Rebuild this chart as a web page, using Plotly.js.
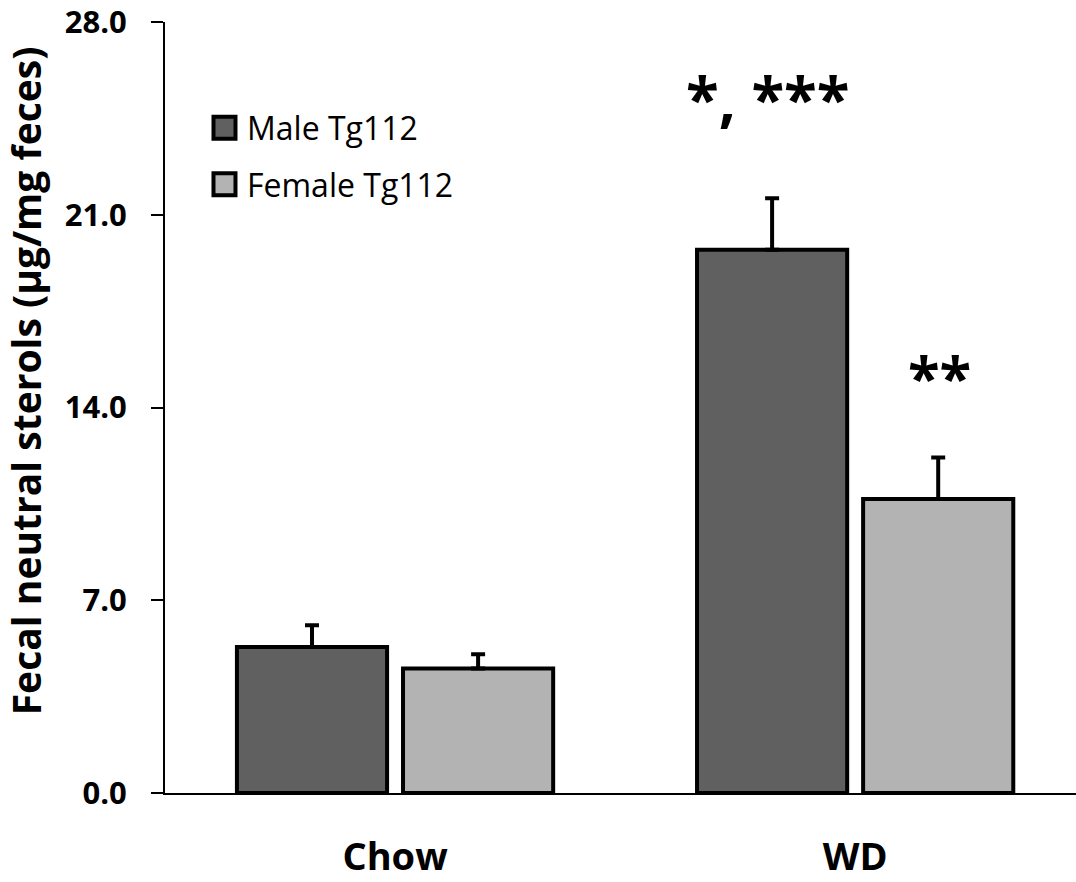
<!DOCTYPE html>
<html>
<head>
<meta charset="utf-8">
<script src="https://cdn.plot.ly/plotly-3.0.1.min.js"></script>
<style>html,body{margin:0;padding:0;background:#fff;}#chart{width:1076px;height:882px;}</style>
</head>
<body>
<div id="chart"></div>
<script>
const categories = ["Chow", "WD"];
const seriesNames = ["Male Tg112", "Female Tg112"];
const maleValues = [5.30, 19.73];
const femaleValues = [4.52, 10.68];
const maleErrors = [0.79, 1.87];
const femaleErrors = [0.52, 1.50];
const yTickValues = [0, 7, 14, 21, 28];
const yTickLabels = ["0.0", "7.0", "14.0", "21.0", "28.0"];
const yTitle = "Fecal neutral sterols (μg/mg feces)";
const significanceLabels = ["*, ***", "**"];
const significanceY = [25.25, 15.14];

const colors = ["#606060", "#b3b3b3"];
const font = "'Open Sans', 'DejaVu Sans', sans-serif";

function barTrace(name, values, errors, color) {
  return {
    type: "bar",
    name: name,
    x: categories,
    y: values,
    marker: {color: color, line: {color: "#000", width: 4}},
    error_y: {type: "data", symmetric: false, array: errors, arrayminus: errors.map(() => 0),
              color: "#000", thickness: 4, width: 7},
    showlegend: false,
    hoverinfo: "x+y"
  };
}

const data = [
  barTrace(seriesNames[0], maleValues, maleErrors, colors[0]),
  barTrace(seriesNames[1], femaleValues, femaleErrors, colors[1])
];

const legendY = [0.863, 0.7895];
const shapes = [];
const annotations = [];
seriesNames.forEach((n, i) => {
  shapes.push({type: "rect", xref: "paper", yref: "paper", xsizemode: "pixel", ysizemode: "pixel",
    xanchor: 0.0653, yanchor: legendY[i], x0: -11, x1: 11, y0: -11, y1: 11,
    fillcolor: colors[i], line: {color: "#000", width: 4}});
  annotations.push({xref: "paper", yref: "paper", x: 0.088, y: legendY[i], xanchor: "left", yanchor: "middle",
    text: n, showarrow: false, font: {family: font, size: 32, color: "#000"}});
});
annotations.push({x: categories[1], y: significanceY[0], xref: "x", yref: "y", xshift: -88,
  text: significanceLabels[0], showarrow: false, yanchor: "middle",
  font: {family: font, size: 60, color: "#000", weight: "bold"}});
annotations.push({x: categories[1], y: significanceY[1], xref: "x", yref: "y", xshift: 84,
  text: significanceLabels[1], showarrow: false, yanchor: "middle",
  font: {family: font, size: 58, color: "#000", weight: "bold"}});
// y-axis title placed as a rotated annotation (reference title sits above plot centre)
annotations.push({xref: "paper", yref: "paper", x: 0, y: 0.534, xshift: -140,
  xanchor: "center", yanchor: "middle", textangle: -90, showarrow: false,
  text: yTitle, font: {family: font, size: 39, color: "#000", weight: "bold"}});

const layout = {
  width: 1076, height: 882,
  margin: {l: 165, r: 0, t: 22, b: 89},
  paper_bgcolor: "#fff", plot_bgcolor: "#fff",
  barmode: "group", bargap: 0.278, bargroupgap: 0.096,
  xaxis: {
    type: "category", range: [-0.5, 1.48],
    showline: true, linecolor: "#000", linewidth: 2,
    ticks: "", showgrid: false, zeroline: false,
    ticklabelstandoff: 29,
    tickfont: {family: font, size: 38, color: "#000", weight: "bold"}
  },
  yaxis: {
    range: [0, 28], showline: true, linecolor: "#000", linewidth: 2,
    ticks: "outside", ticklen: 12, tickwidth: 2, tickcolor: "#000",
    tickvals: yTickValues, ticktext: yTickLabels,
    showgrid: false, zeroline: false,
    ticklabelstandoff: 18, ticklabeloverflow: "allow",
    tickfont: {family: font, size: 31, color: "#000", weight: "bold"}
  },
  shapes: shapes,
  annotations: annotations,
  showlegend: false
};

Plotly.newPlot("chart", data, layout, {displayModeBar: false, staticPlot: true});
</script>
</body>
</html>
